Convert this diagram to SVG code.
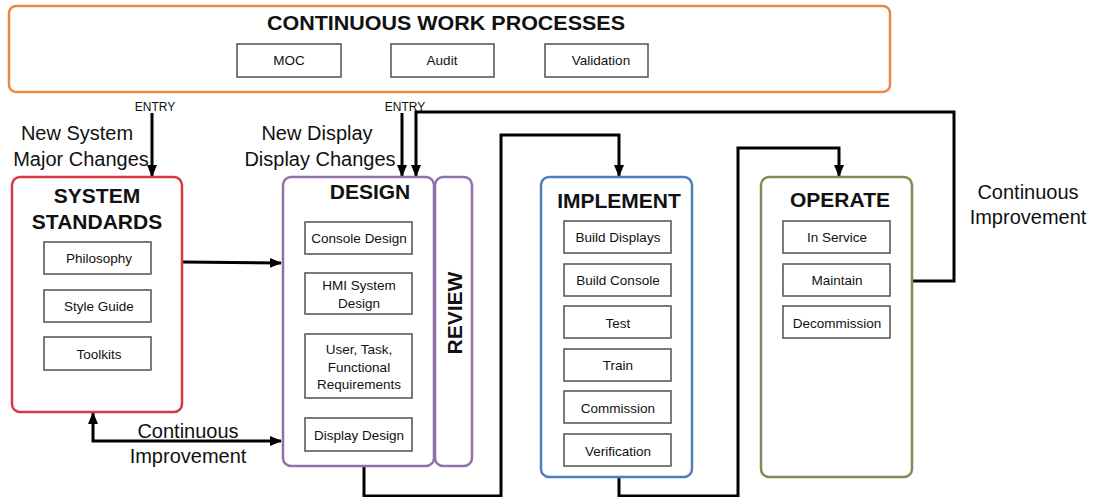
<svg xmlns="http://www.w3.org/2000/svg" width="1101" height="497" viewBox="0 0 1101 497">
  <style>
    text { font-family: "Liberation Sans", Arial, sans-serif; fill: #111; }
    .head { font-weight: bold; font-size: 21px; text-anchor: middle; }
    .big { font-size: 20px; text-anchor: middle; }
    .item { font-size: 13.5px; text-anchor: middle; }
    .entry { font-size: 12px; text-anchor: middle; }
    .sub { fill: #fff; stroke: #5a5a5a; stroke-width: 1.6; }
    .stage { fill: #fff; stroke-width: 2.5; }
    .wire { fill: none; stroke: #000; stroke-width: 3; }
  </style>
  <defs>
    <marker id="arrow" markerUnits="userSpaceOnUse" markerWidth="12" markerHeight="12" refX="11" refY="6" orient="auto-start-reverse">
      <path d="M0,1 L12,6 L0,11 z" fill="#000"/>
    </marker>
  </defs>
  <rect width="1101" height="497" fill="#fff"/>

  <!-- Continuous work processes banner -->
  <g id="continuous-work-processes">
    <rect x="9" y="6" width="881" height="86" rx="7" fill="#fff" stroke="#E58B45" stroke-width="2.5"/>
    <text class="head" x="446" y="30" textLength="358" lengthAdjust="spacingAndGlyphs">CONTINUOUS WORK PROCESSES</text>
    <g id="moc"><rect class="sub" x="237" y="44" width="104" height="33"/><text class="item" x="289" y="65">MOC</text></g>
    <g id="audit"><rect class="sub" x="391" y="44" width="103" height="33"/><text class="item" x="442" y="65">Audit</text></g>
    <g id="validation"><rect class="sub" x="545" y="44" width="103" height="33"/><text class="item" x="601" y="65">Validation</text></g>
  </g>

  <!-- Connectors -->
  <g id="connectors">
    <path class="wire" d="M152,113 L152,176" marker-end="url(#arrow)"/>
    <path class="wire" d="M183,262 L281,263" stroke-width="2" marker-end="url(#arrow)"/>
    <path class="wire" d="M93,413 L93,441 L281,441" stroke-width="2.5" marker-start="url(#arrow)" marker-end="url(#arrow)"/>
    <path class="wire" d="M402,113 L402,176" marker-end="url(#arrow)"/>
    <path class="wire" d="M912,281 L954,281 L954,112 L416,112 L416,176" marker-end="url(#arrow)"/>
    <path class="wire" d="M364,466 L364,496 L501,496 L501,135 L619,135 L619,176" marker-end="url(#arrow)"/>
    <path class="wire" d="M619,477 L619,496 L738,496 L738,148 L839,148 L839,176" marker-end="url(#arrow)"/>
  </g>

  <!-- Free labels -->
  <g id="labels">
    <text class="entry" x="155" y="111">ENTRY</text>
    <text class="entry" x="405" y="111">ENTRY</text>
    <text class="big" x="77" y="140">New System</text>
    <text class="big" x="81" y="166">Major Changes</text>
    <text class="big" x="317" y="140">New Display</text>
    <text class="big" x="320" y="166">Display Changes</text>
    <text class="big" x="188" y="438">Continuous</text>
    <text class="big" x="188" y="463">Improvement</text>
    <text class="big" x="1028" y="199">Continuous</text>
    <text class="big" x="1028" y="224">Improvement</text>
  </g>

  <!-- System standards -->
  <g id="system-standards">
    <rect class="stage" x="12" y="177" width="170" height="235" rx="8" stroke="#D63A3F"/>
    <text class="head" x="97" y="203">SYSTEM</text>
    <text class="head" x="97" y="229">STANDARDS</text>
    <g id="philosophy"><rect class="sub" x="44" y="242" width="107" height="32"/><text class="item" x="99" y="263">Philosophy</text></g>
    <g id="style-guide"><rect class="sub" x="44" y="290" width="107" height="32"/><text class="item" x="99" y="311">Style Guide</text></g>
    <g id="toolkits"><rect class="sub" x="44" y="337" width="107" height="33"/><text class="item" x="99" y="359">Toolkits</text></g>
  </g>

  <!-- Design -->
  <g id="design">
    <rect class="stage" x="283" y="177" width="151" height="289" rx="8" stroke="#8F72A8"/>
    <text class="head" x="370" y="199">DESIGN</text>
    <g id="console-design"><rect class="sub" x="305" y="222" width="107" height="32"/><text class="item" x="359" y="243">Console Design</text></g>
    <g id="hmi-system-design"><rect class="sub" x="305" y="273" width="107" height="41"/><text class="item" x="359" y="290">HMI System</text><text class="item" x="359" y="308">Design</text></g>
    <g id="requirements"><rect class="sub" x="305" y="334" width="107" height="64"/><text class="item" x="359" y="354">User, Task,</text><text class="item" x="359" y="372">Functional</text><text class="item" x="359" y="389">Requirements</text></g>
    <g id="display-design"><rect class="sub" x="305" y="418" width="107" height="33"/><text class="item" x="359" y="440">Display Design</text></g>
  </g>

  <!-- Review -->
  <g id="review">
    <rect class="stage" x="435" y="177" width="37" height="289" rx="8" stroke="#8F72A8"/>
    <text class="head" x="0" y="0" font-size="22" transform="translate(462,313) rotate(-90)">REVIEW</text>
  </g>

  <!-- Implement -->
  <g id="implement">
    <rect class="stage" x="541" y="177" width="151" height="300" rx="8" stroke="#4F7DC0"/>
    <text class="head" x="619" y="208">IMPLEMENT</text>
    <g id="build-displays"><rect class="sub" x="564" y="221" width="107" height="32"/><text class="item" x="618" y="242">Build Displays</text></g>
    <g id="build-console"><rect class="sub" x="564" y="264" width="107" height="32"/><text class="item" x="618" y="285">Build Console</text></g>
    <g id="test"><rect class="sub" x="564" y="306" width="107" height="32"/><text class="item" x="618" y="328">Test</text></g>
    <g id="train"><rect class="sub" x="564" y="349" width="107" height="32"/><text class="item" x="618" y="370">Train</text></g>
    <g id="commission"><rect class="sub" x="564" y="391" width="107" height="32"/><text class="item" x="618" y="413">Commission</text></g>
    <g id="verification"><rect class="sub" x="564" y="434" width="107" height="32"/><text class="item" x="618" y="456">Verification</text></g>
  </g>

  <!-- Operate -->
  <g id="operate">
    <rect class="stage" x="761" y="177" width="151" height="300" rx="8" stroke="#7D8C55"/>
    <text class="head" x="840" y="207">OPERATE</text>
    <g id="in-service"><rect class="sub" x="783" y="221" width="107" height="32"/><text class="item" x="837" y="242">In Service</text></g>
    <g id="maintain"><rect class="sub" x="783" y="264" width="107" height="32"/><text class="item" x="837" y="285">Maintain</text></g>
    <g id="decommission"><rect class="sub" x="783" y="306" width="107" height="32"/><text class="item" x="837" y="328">Decommission</text></g>
  </g>
</svg>
